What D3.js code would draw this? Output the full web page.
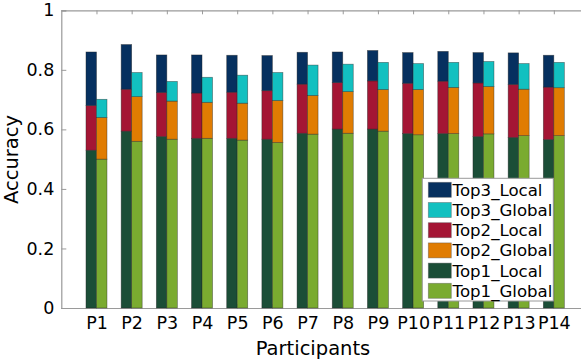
<!DOCTYPE html>
<html>
<head>
<meta charset="utf-8">
<script src="https://cdn.jsdelivr.net/npm/d3@7"></script>
<style>
  body { margin: 0; background: #fff; }
  svg { display: block; font-family: "DejaVu Sans", sans-serif; }
</style>
</head>
<body>
<div id="container"></div>
<script>
// data (cumulative accuracy)
const participants = ["P1", "P2", "P3", "P4", "P5", "P6", "P7", "P8", "P9", "P10", "P11", "P12", "P13", "P14"];
const top1Local = [0.530, 0.594, 0.576, 0.570, 0.570, 0.567, 0.587, 0.601, 0.601, 0.586, 0.586, 0.576, 0.573, 0.566];
const top2Local = [0.680, 0.735, 0.724, 0.722, 0.725, 0.730, 0.752, 0.757, 0.763, 0.755, 0.762, 0.756, 0.751, 0.742];
const top3Local = [0.860, 0.885, 0.850, 0.850, 0.849, 0.848, 0.859, 0.860, 0.865, 0.858, 0.862, 0.858, 0.857, 0.849];
const top1Global = [0.500, 0.560, 0.567, 0.570, 0.564, 0.556, 0.584, 0.587, 0.594, 0.582, 0.586, 0.585, 0.579, 0.579];
const top2Global = [0.640, 0.710, 0.695, 0.691, 0.688, 0.697, 0.714, 0.727, 0.734, 0.734, 0.741, 0.744, 0.735, 0.740];
const top3Global = [0.701, 0.791, 0.761, 0.775, 0.782, 0.791, 0.816, 0.819, 0.825, 0.821, 0.825, 0.828, 0.821, 0.825];
const yTicks = [0, 0.2, 0.4, 0.6, 0.8, 1];
const legendNames = ["Top3_Local", "Top3_Global", "Top2_Local", "Top2_Global", "Top1_Local", "Top1_Global"];

const colors = {
  Top3_Local: "#06305f",
  Top3_Global: "#12c0c0",
  Top2_Local: "#a41534",
  Top2_Global: "#e07c02",
  Top1_Local: "#1b4e37",
  Top1_Global: "#7aab30"
};

const width = 581;
const height = 360;
const plotLeft = 61.3;
const plotTop = 10.3;
const plotBottom = 308;

const svg = d3
  .select("#container")
  .append("svg")
  .attr("width", width)
  .attr("height", height);

// x runs off the right edge of the picture, like the original
const xScale = d3.scalePoint().domain(participants).range([plotLeft, 589]).padding(1);
const yScale = d3.scaleLinear().domain([0, 1]).range([plotBottom, plotTop]);
const barW = 10.5;

// build segments: each bar is stacked top1 / top2 / top3
const segments = [];
participants.forEach((p, i) => {
  const local = [top1Local[i], top2Local[i], top3Local[i]];
  const global = [top1Global[i], top2Global[i], top3Global[i]];
  [local, global].forEach((vals, side) => {
    let prev = 0;
    vals.forEach((v, k) => {
      segments.push({
        p: p,
        side: side,
        y0: prev,
        y1: v,
        name: "Top" + (k + 1) + (side === 0 ? "_Local" : "_Global")
      });
      prev = v;
    });
  });
});

// axes behind the bars
const axisColor = "#9a9a9a";

const yAxis = d3
  .axisLeft(yScale)
  .tickValues(yTicks)
  .tickSize(-5)
  .tickPadding(7)
  .tickFormat((d) => (d === 0 || d === 1 ? d : d.toFixed(1)));

const xAxis = d3.axisBottom(xScale).tickSize(-4).tickPadding(8.5);
const xAxisTop = d3.axisTop(xScale).tickSize(-4).tickFormat("");

const gy = svg.append("g").attr("transform", `translate(${plotLeft},0)`).call(yAxis);
const gx = svg.append("g").attr("transform", `translate(0,${plotBottom})`).call(xAxis);
const gt = svg.append("g").attr("transform", `translate(0,${plotTop})`).call(xAxisTop);

[gy, gx, gt].forEach((g) => {
  g.select(".domain").attr("stroke", axisColor).attr("stroke-width", 1.2);
  g.selectAll(".tick line").attr("stroke", axisColor);
  g.selectAll("text").attr("fill", "#000").style("font-size", "17.5px").style("font-family", "DejaVu Sans");
});
gx.select(".domain").attr("d", `M${plotLeft},0.5H${width}`);
gt.select(".domain").attr("d", `M${plotLeft},0.5H${width}`);

svg
  .append("g")
  .selectAll("rect")
  .data(segments)
  .enter()
  .append("rect")
  .attr("x", (d) => xScale(d.p) + (d.side === 0 ? -barW : 0))
  .attr("y", (d) => yScale(d.y1))
  .attr("width", barW)
  .attr("height", (d) => yScale(d.y0) - yScale(d.y1))
  .attr("fill", (d) => colors[d.name])
  .attr("stroke", "#222")
  .attr("stroke-opacity", 0.55)
  .attr("stroke-width", 0.7);

// axis titles
svg
  .append("text")
  .attr("x", 313)
  .attr("y", 355)
  .attr("text-anchor", "middle")
  .style("font-size", "19.5px")
  .text("Participants");

svg
  .append("text")
  .attr("transform", "translate(17.5,159.5) rotate(-90)")
  .attr("text-anchor", "middle")
  .style("font-size", "19.5px")
  .text("Accuracy");

// legend
const legend = svg.append("g").attr("transform", "translate(422.3,178.3)");
legend
  .append("rect")
  .attr("width", 131)
  .attr("height", 122.7)
  .attr("fill", "#fff")
  .attr("stroke", axisColor)
  .attr("stroke-width", 1);

const rows = legend
  .selectAll(".row")
  .data(legendNames)
  .enter()
  .append("g")
  .attr("transform", (d, i) => `translate(6,${4 + i * 20.2})`);

rows
  .append("rect")
  .attr("width", 23)
  .attr("height", 15)
  .attr("fill", (d) => colors[d])
  .attr("stroke", "#555")
  .attr("stroke-opacity", 0.5)
  .attr("stroke-width", 0.8);

rows
  .append("text")
  .attr("x", 24.3)
  .attr("y", 13.5)
  .style("font-size", "16.6px")
  .text((d) => d);
</script>
</body>
</html>
